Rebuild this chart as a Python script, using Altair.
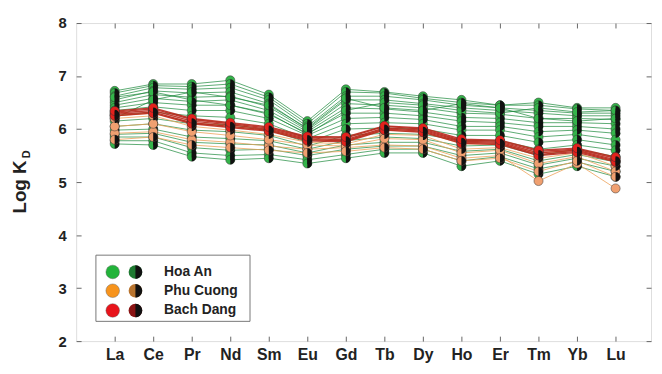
import altair as alt
import pandas as pd

elements = ["La", "Ce", "Pr", "Nd", "Sm", "Eu", "Gd", "Tb", "Dy", "Ho", "Er", "Tm", "Yb", "Lu"]

hoa_an = [
    [6.72, 6.85, 6.85, 6.92, 6.65, 6.15, 6.75, 6.70, 6.62, 6.55, 6.45, 6.50, 6.40, 6.40],
    [6.68, 6.82, 6.80, 6.85, 6.60, 6.10, 6.70, 6.68, 6.58, 6.50, 6.45, 6.45, 6.38, 6.35],
    [6.62, 6.78, 6.75, 6.78, 6.55, 6.05, 6.62, 6.62, 6.55, 6.45, 6.40, 6.35, 6.30, 6.30],
    [6.55, 6.72, 6.68, 6.70, 6.48, 6.00, 6.55, 6.55, 6.48, 6.40, 6.35, 6.30, 6.25, 6.25],
    [6.50, 6.65, 6.60, 6.62, 6.42, 5.98, 6.48, 6.45, 6.40, 6.30, 6.28, 6.20, 6.20, 6.18],
    [6.45, 6.58, 6.52, 6.55, 6.35, 5.95, 6.40, 6.38, 6.32, 6.22, 6.20, 6.12, 6.12, 6.10],
    [6.40, 6.50, 6.45, 6.45, 6.28, 5.92, 6.30, 6.30, 6.25, 6.15, 6.12, 6.05, 6.05, 6.00],
    [6.35, 6.42, 6.35, 6.35, 6.20, 5.88, 6.20, 6.22, 6.18, 6.05, 6.05, 5.95, 5.98, 5.92],
    [6.25, 6.32, 6.25, 6.22, 6.10, 5.82, 6.10, 6.12, 6.10, 5.98, 5.98, 5.85, 5.90, 5.80],
    [6.15, 6.20, 6.10, 6.08, 5.98, 5.75, 6.00, 6.02, 6.00, 5.88, 5.88, 5.75, 5.80, 5.70],
    [6.05, 6.10, 5.98, 5.95, 5.88, 5.68, 5.88, 5.92, 5.90, 5.78, 5.78, 5.62, 5.70, 5.60],
    [5.98, 6.00, 5.85, 5.82, 5.78, 5.62, 5.78, 5.85, 5.82, 5.68, 5.70, 5.50, 5.62, 5.48],
    [5.90, 5.92, 5.75, 5.72, 5.70, 5.55, 5.70, 5.75, 5.75, 5.58, 5.62, 5.40, 5.52, 5.38],
    [5.85, 5.85, 5.65, 5.60, 5.62, 5.50, 5.62, 5.68, 5.68, 5.50, 5.55, 5.32, 5.45, 5.30],
    [5.78, 5.78, 5.55, 5.50, 5.52, 5.42, 5.52, 5.62, 5.62, 5.40, 5.48, 5.25, 5.38, 5.20],
    [5.72, 5.70, 5.48, 5.42, 5.45, 5.35, 5.45, 5.55, 5.55, 5.30, 5.40, 5.15, 5.30, 5.10],
    [6.60, 6.70, 6.55, 6.45, 6.30, 5.90, 6.35, 6.50, 6.45, 6.35, 6.30, 6.40, 6.32, 6.35],
    [6.20, 6.55, 6.70, 6.60, 6.45, 6.02, 6.58, 6.40, 6.35, 6.48, 6.40, 6.20, 6.15, 6.20],
]

phu_cuong = [
    [5.92, 5.95, 5.80, 5.75, 5.68, 5.62, 5.65, 5.70, 5.68, 5.45, 5.50, 5.02, 5.35, 4.88],
    [6.20, 6.25, 6.05, 5.98, 5.90, 5.75, 5.72, 5.90, 5.88, 5.62, 5.65, 5.45, 5.55, 5.30],
    [6.05, 6.10, 5.95, 5.88, 5.80, 5.70, 5.68, 5.82, 5.80, 5.55, 5.60, 5.35, 5.48, 5.20],
    [5.80, 5.85, 5.70, 5.65, 5.60, 5.55, 5.58, 5.65, 5.62, 5.40, 5.45, 5.20, 5.40, 5.10],
    [6.25, 6.30, 6.12, 6.05, 5.98, 5.80, 5.78, 5.98, 5.95, 5.72, 5.72, 5.55, 5.60, 5.38],
]

bach_dang = [
    [6.30, 6.35, 6.15, 6.08, 6.00, 5.82, 5.80, 6.02, 5.98, 5.77, 5.75, 5.55, 5.60, 5.42],
    [6.28, 6.32, 6.12, 6.05, 5.98, 5.80, 5.78, 6.00, 5.96, 5.75, 5.73, 5.52, 5.58, 5.40],
    [6.32, 6.38, 6.18, 6.10, 6.02, 5.84, 5.83, 6.05, 6.00, 5.79, 5.77, 5.58, 5.62, 5.45],
    [6.25, 6.30, 6.10, 6.03, 5.96, 5.78, 5.76, 5.98, 5.94, 5.73, 5.71, 5.50, 5.56, 5.38],
    [6.34, 6.40, 6.20, 6.12, 6.04, 5.86, 5.85, 6.06, 6.02, 5.81, 5.79, 5.60, 5.64, 5.47],
]

sites = ["Hoa An", "Phu Cuong", "Bach Dang"]
line_colors = {"Hoa An": "#1e8a3c", "Phu Cuong": "#eea25a", "Bach Dang": "#b8281c"}
fill_colors = {"Hoa An": "#34b44a", "Phu Cuong": "#f0a070", "Bach Dang": "#e3211c"}
line_widths = {"Hoa An": 0.8, "Phu Cuong": 0.9, "Bach Dang": 1.4}

FONT = "Liberation Sans"
HALF = "M0,-1A1,1,0,0,1,0,1Z"


def frame(site, rows):
    recs = []
    for i, row in enumerate(rows):
        for j, v in enumerate(row):
            recs.append({"series": f"{site}{i}", "el": j + 1, "value": v,
                         "half": (i % 4 != 0) if site == "Hoa An" else (i % 2 == 1)})
    return pd.DataFrame(recs)


data = {"Hoa An": frame("Hoa An", hoa_an),
        "Phu Cuong": frame("Phu Cuong", phu_cuong),
        "Bach Dang": frame("Bach Dang", bach_dang)}

label_expr = "[" + ",".join(f"'{n}'" for n in elements) + "][datum.value - 1]"
xscale = alt.Scale(domain=[0, 14.92], nice=False, zero=False)
yscale = alt.Scale(domain=[2, 8], nice=False, zero=False)

xaxis = alt.Axis(values=list(range(1, 15)), labelExpr=label_expr, title=None, grid=False,
                 domain=False, offset=-5, tickSize=5, tickColor="#666", labelPadding=6,
                 labelFont=FONT, labelFontSize=16, labelFontWeight="bold", labelColor="#222")
yaxis = alt.Axis(values=[2, 3, 4, 5, 6, 7, 8], format="d", title=None, grid=False,
                 domain=False, offset=-5, tickSize=5, tickColor="#666", labelPadding=10,
                 labelFont=FONT, labelFontSize=15, labelFontWeight="bold", labelColor="#222")

X = alt.X("el:Q", scale=xscale, axis=xaxis)
Y = alt.Y("value:Q", scale=yscale, axis=yaxis)

layers = []
for s in sites:
    layers.append(alt.Chart(data[s]).mark_line(color=line_colors[s], strokeWidth=line_widths[s],
                                               opacity=0.9).encode(x=X, y=Y, detail="series:N"))
for s in sites:
    layers.append(alt.Chart(data[s]).mark_point(shape="circle", filled=True, fill=fill_colors[s],
                                                stroke="#333", strokeWidth=0.5, size=85, opacity=1)
                  .encode(x=X, y=Y))
    layers.append(alt.Chart(data[s]).transform_filter("datum.half").mark_point(
        shape=HALF, filled=True, fill="#111", size=85, opacity=1).encode(x=X, y=Y))

# legend
one = pd.DataFrame({"a": [0]})
layers.append(alt.Chart(one).mark_rect(fill="white", stroke="#777", strokeWidth=1).encode(
    x=alt.value(20), x2=alt.value(176), y=alt.value(235), y2=alt.value(302)))
legend_y = [252, 271, 291]
legend_fill = {"Hoa An": "#22b33a", "Phu Cuong": "#f7941d", "Bach Dang": "#e8141b"}
legend_dark = {"Hoa An": "#1f7a32", "Phu Cuong": "#b8742e", "Bach Dang": "#8a1414"}
for s, yy in zip(sites, legend_y):
    layers.append(alt.Chart(one).mark_point(shape="circle", filled=True, fill=legend_fill[s],
                                            size=190, opacity=1, stroke="#555", strokeWidth=0.4)
                  .encode(x=alt.value(37), y=alt.value(yy)))
    layers.append(alt.Chart(one).mark_point(shape="circle", filled=True, fill=legend_dark[s],
                                            size=190, opacity=1).encode(x=alt.value(60), y=alt.value(yy)))
    layers.append(alt.Chart(one).mark_point(shape=HALF, filled=True, fill="#111",
                                            size=190, opacity=1).encode(x=alt.value(60), y=alt.value(yy)))
    layers.append(alt.Chart(one).mark_text(text=s, align="left", baseline="middle", font=FONT,
                                           fontSize=14, fontWeight="bold", color="#222")
                  .encode(x=alt.value(89), y=alt.value(yy)))

# y title "Log K" with subscript D
layers.append(alt.Chart(one).mark_text(text="Log K", angle=270, align="center", baseline="alphabetic",
                                       font=FONT, fontSize=19, fontWeight="bold", color="#222")
              .encode(x=alt.value(-51), y=alt.value(166)))
layers.append(alt.Chart(one).mark_text(text="D", angle=270, align="center", baseline="alphabetic",
                                       font=FONT, fontSize=11, fontWeight="bold", color="#222")
              .encode(x=alt.value(-47), y=alt.value(133)))

main = alt.layer(*layers)

topright = alt.Chart(data["Hoa An"]).mark_point(opacity=0).encode(
    x=alt.X("el:Q", scale=xscale, axis=alt.Axis(orient="top", values=list(range(1, 15)), labels=False,
                                                 title=None, grid=False, domain=False, offset=-5,
                                                 tickSize=5, tickColor="#666")),
    y=alt.Y("value:Q", scale=yscale, axis=alt.Axis(orient="right", values=[2, 3, 4, 5, 6, 7, 8], labels=False,
                                                    title=None, grid=False, domain=False, offset=-5,
                                                    tickSize=5, tickColor="#666")))

chart = alt.layer(main, topright).resolve_axis(x="independent", y="independent").properties(
    width=582, height=322,
    autosize=alt.AutoSizeParams(type="none"),
    padding={"left": 69, "top": 13, "right": 3, "bottom": 25},
).configure_view(stroke="#555", strokeWidth=1.2).configure(background="white")

chart.save("out.html", embed_options={"renderer": "svg", "actions": False})
